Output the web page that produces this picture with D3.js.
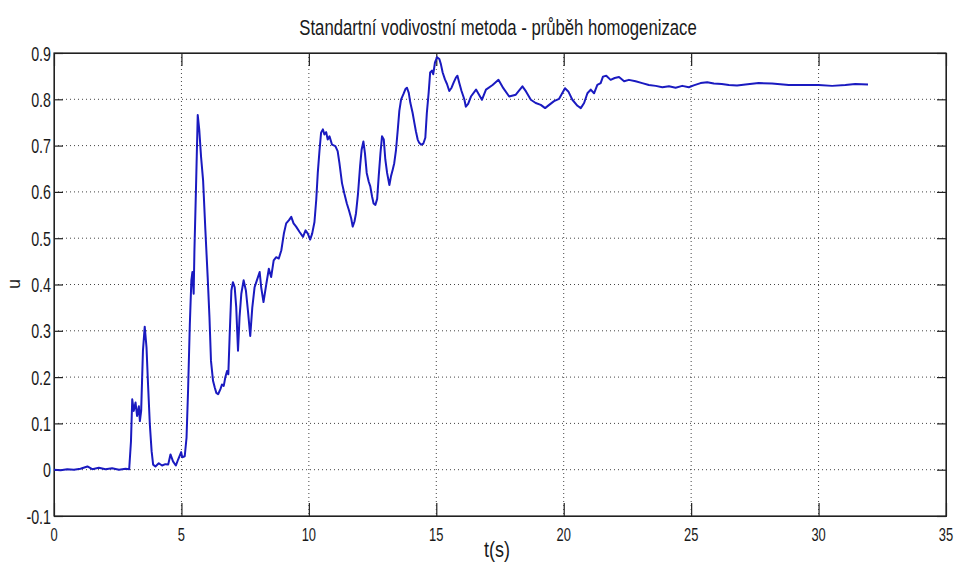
<!DOCTYPE html>
<meta charset="utf-8"/>
<html>
  <head>
    <script src="https://d3js.org/d3.v7.min.js"></script>
    <style>
      body { margin: 0; background: #fff; }
      text { font-family: 'Liberation Sans', Arial, sans-serif; fill: #1a1a1a; }
    </style>
  </head>
  <body>
<script type="text/javascript">
var titleText = 'Standartní vodivostní metoda - průběh homogenizace';
var xLabel = 't(s)';
var yLabel = 'u';
var xTicks = [0, 5, 10, 15, 20, 25, 30, 35];
var yTicks = [-0.1, 0, 0.1, 0.2, 0.3, 0.4, 0.5, 0.6, 0.7, 0.8, 0.9];

// time (s)
var tValues = [
  0, 0.26, 0.52, 0.78, 1.04, 1.31, 1.50, 1.76, 2.02, 2.28, 2.55, 2.81, 2.95,
  3.02, 3.07, 3.13, 3.20, 3.26, 3.33, 3.37, 3.42, 3.49, 3.56, 3.63, 3.69, 3.76, 3.83, 3.89, 3.98,
  4.11, 4.24, 4.37, 4.48, 4.57, 4.67, 4.78, 4.87, 4.99, 5.03, 5.13, 5.20, 5.26, 5.33, 5.39, 5.43,
  5.48, 5.51, 5.57, 5.64, 5.70, 5.77, 5.85, 5.94, 6.03, 6.10, 6.16, 6.24, 6.31, 6.37, 6.44, 6.53,
  6.59, 6.66, 6.72, 6.79, 6.84, 6.89, 6.96, 7.02, 7.09, 7.15, 7.22, 7.28, 7.35, 7.44, 7.53, 7.61,
  7.70, 7.78, 7.87, 7.96, 8.07, 8.13, 8.22, 8.33, 8.43, 8.52, 8.62, 8.72, 8.82, 8.92, 9.02, 9.11,
  9.22, 9.31, 9.40, 9.50, 9.63, 9.77, 9.87, 9.96, 10.05, 10.13, 10.22, 10.29, 10.35, 10.42, 10.48,
  10.55, 10.61, 10.68, 10.74, 10.81, 10.91, 11.04, 11.13, 11.20, 11.30, 11.39, 11.49, 11.57, 11.66,
  11.72, 11.79, 11.85, 11.93, 12.01, 12.07, 12.14, 12.20, 12.27, 12.35, 12.41, 12.48, 12.54, 12.61,
  12.68, 12.74, 12.81, 12.87, 12.94, 13.00, 13.07, 13.16, 13.22, 13.29, 13.35, 13.42, 13.49, 13.55,
  13.62, 13.71, 13.79, 13.85, 13.92, 13.98, 14.07, 14.14, 14.20, 14.27, 14.33, 14.41, 14.49, 14.57,
  14.63, 14.70, 14.76, 14.83, 14.88, 14.95, 15.03, 15.12, 15.18, 15.25, 15.34, 15.42, 15.51, 15.60,
  15.68, 15.77, 15.83, 15.90, 15.99, 16.10, 16.16, 16.25, 16.36, 16.56, 16.79, 16.95, 17.21, 17.44,
  17.63, 17.86, 18.12, 18.38, 18.52, 18.71, 18.90, 19.10, 19.27, 19.43, 19.62, 19.82, 20.05, 20.18,
  20.34, 20.54, 20.67, 20.80, 20.93, 21.06, 21.19, 21.32, 21.45, 21.54, 21.67, 21.84, 22.00, 22.17,
  22.37, 22.56, 22.82, 23.08, 23.34, 23.61, 23.87, 24.13, 24.39, 24.65, 24.91, 25.10, 25.37, 25.63,
  25.89, 26.20, 26.48, 26.80, 27.13, 27.65, 28.17, 28.83, 29.40, 30.00, 30.53, 31.05, 31.44, 31.94
];

// conductivity u
var uValues = [
  0.000, -0.001, 0.001, 0.000, 0.002, 0.007, 0.001, 0.004, 0.001, 0.003, 0.000, 0.002, 0.001,
  0.061, 0.152, 0.127, 0.145, 0.116, 0.137, 0.105, 0.127, 0.257, 0.309, 0.264, 0.184, 0.098, 0.040, 0.011, 0.007,
  0.014, 0.009, 0.012, 0.011, 0.033, 0.018, 0.009, 0.022, 0.038, 0.027, 0.029, 0.069, 0.170, 0.315, 0.409, 0.427,
  0.380, 0.474, 0.604, 0.766, 0.734, 0.676, 0.625, 0.517, 0.416, 0.329, 0.235, 0.192, 0.177, 0.166, 0.163, 0.174,
  0.184, 0.181, 0.199, 0.213, 0.206, 0.286, 0.387, 0.405, 0.394, 0.351, 0.257, 0.329, 0.380, 0.409, 0.387, 0.343,
  0.289, 0.350, 0.394, 0.409, 0.427, 0.394, 0.362, 0.401, 0.434, 0.416, 0.452, 0.459, 0.456, 0.474, 0.510, 0.532,
  0.539, 0.546, 0.532, 0.525, 0.514, 0.503, 0.517, 0.510, 0.497, 0.510, 0.535, 0.583, 0.641, 0.691, 0.728,
  0.735, 0.724, 0.729, 0.713, 0.720, 0.702, 0.699, 0.688, 0.662, 0.619, 0.597, 0.575, 0.561, 0.543,
  0.525, 0.536, 0.554, 0.597, 0.655, 0.691, 0.709, 0.684, 0.641, 0.622, 0.612, 0.590, 0.575, 0.572,
  0.585, 0.633, 0.684, 0.720, 0.713, 0.670, 0.641, 0.615, 0.633, 0.648, 0.662, 0.691, 0.735, 0.775,
  0.800, 0.811, 0.822, 0.825, 0.814, 0.793, 0.771, 0.749, 0.731, 0.713, 0.706, 0.702, 0.704, 0.717,
  0.771, 0.814, 0.858, 0.862, 0.854, 0.880, 0.891, 0.887, 0.876, 0.858, 0.843, 0.833, 0.818, 0.825,
  0.836, 0.847, 0.851, 0.836, 0.818, 0.800, 0.784, 0.790, 0.806, 0.821, 0.799, 0.821, 0.831, 0.842,
  0.824, 0.806, 0.810, 0.828, 0.817, 0.799, 0.792, 0.788, 0.781, 0.788, 0.796, 0.801, 0.824, 0.817,
  0.799, 0.786, 0.781, 0.792, 0.813, 0.821, 0.813, 0.831, 0.835, 0.849, 0.851, 0.842, 0.846, 0.848,
  0.839, 0.842, 0.839, 0.835, 0.831, 0.829, 0.826, 0.828, 0.825, 0.829, 0.826, 0.830, 0.835, 0.837,
  0.834, 0.833, 0.831, 0.830, 0.832, 0.835, 0.834, 0.831, 0.831, 0.831, 0.829, 0.831, 0.833, 0.832
];

var width = 956;
var height = 572;
var plot = {left: 54, top: 53, right: 946, bottom: 516};
var squeeze = 0.68; // the original font is much narrower than Liberation Sans

var svg = d3.select('body').append('svg')
    .attr('width', width)
    .attr('height', height);

var x = d3.scaleLinear().domain([0, 35]).range([plot.left, plot.right]);
var y = d3.scaleLinear().domain([-0.1, 0.9]).range([plot.bottom, plot.top]);

var fmt = function(d) { return String(+d.toFixed(1)); };

// dotted grid
svg.append('g')
    .selectAll('line')
    .data(xTicks.slice(1, -1))
    .enter()
    .append('line')
    .attr('x1', function(d) { return x(d); })
    .attr('x2', function(d) { return x(d); })
    .attr('y1', plot.top)
    .attr('y2', plot.bottom)
    .attr('stroke', '#444')
    .attr('stroke-width', 1)
    .attr('stroke-dasharray', '1,3');

svg.append('g')
    .selectAll('line')
    .data(yTicks.slice(1, -1))
    .enter()
    .append('line')
    .attr('x1', plot.left)
    .attr('x2', plot.right)
    .attr('y1', function(d) { return y(d); })
    .attr('y2', function(d) { return y(d); })
    .attr('stroke', '#444')
    .attr('stroke-width', 1)
    .attr('stroke-dasharray', '1,3');

// axes, ticks pointing inward on all four sides
svg.append('g')
    .attr('transform', 'translate(0,' + plot.bottom + ')')
    .call(d3.axisTop(x).tickValues(xTicks).tickSize(13).tickFormat(''));
svg.append('g')
    .attr('transform', 'translate(0,' + plot.top + ')')
    .call(d3.axisBottom(x).tickValues(xTicks).tickSize(13).tickFormat(''));
svg.append('g')
    .attr('transform', 'translate(' + plot.left + ',0)')
    .call(d3.axisRight(y).tickValues(yTicks).tickSize(9).tickFormat(''));
svg.append('g')
    .attr('transform', 'translate(' + plot.right + ',0)')
    .call(d3.axisLeft(y).tickValues(yTicks).tickSize(9).tickFormat(''));
svg.selectAll('.domain').attr('stroke', '#222');
svg.selectAll('.tick line').attr('stroke', '#222').attr('stroke-width', 1.2);

svg.append('rect')
    .attr('x', plot.left)
    .attr('y', plot.top)
    .attr('width', plot.right - plot.left)
    .attr('height', plot.bottom - plot.top)
    .attr('fill', 'none')
    .attr('stroke', '#222')
    .attr('stroke-width', 1.2);

// tick labels
svg.append('g')
    .selectAll('text')
    .data(xTicks)
    .enter()
    .append('text')
    .attr('transform', function(d) { return 'translate(' + x(d) + ',' + (plot.bottom + 25) + ') scale(' + squeeze + ',1)'; })
    .attr('text-anchor', 'middle')
    .attr('font-size', 19)
    .text(function(d) { return d; });

svg.append('g')
    .selectAll('text')
    .data(yTicks)
    .enter()
    .append('text')
    .attr('transform', function(d) { return 'translate(' + (plot.left - 3) + ',' + (y(d) + 7.5) + ') scale(' + squeeze + ',1)'; })
    .attr('text-anchor', 'end')
    .attr('font-size', 21)
    .text(fmt);

// data line
var line = d3.line()
    .x(function(d) { return x(d[0]); })
    .y(function(d) { return y(d[1]); });

svg.append('path')
    .attr('d', line(d3.zip(tValues, uValues)))
    .attr('fill', 'none')
    .attr('stroke', '#1a1ac0')
    .attr('stroke-width', 2)
    .attr('stroke-linejoin', 'round');

// labels
svg.append('text')
    .attr('transform', 'translate(' + ((plot.left + plot.right) / 2 - 2) + ',35) scale(0.76,1)')
    .attr('text-anchor', 'middle')
    .attr('font-size', 22)
    .text(titleText);

svg.append('text')
    .attr('transform', 'translate(' + ((plot.left + plot.right) / 2 - 3) + ',557) scale(0.82,1)')
    .attr('text-anchor', 'middle')
    .attr('font-size', 22)
    .text(xLabel);

svg.append('text')
    .attr('transform', 'translate(20,284) rotate(-90)')
    .attr('text-anchor', 'middle')
    .attr('font-size', 18)
    .text(yLabel);
</script>
  </body>
</html>
